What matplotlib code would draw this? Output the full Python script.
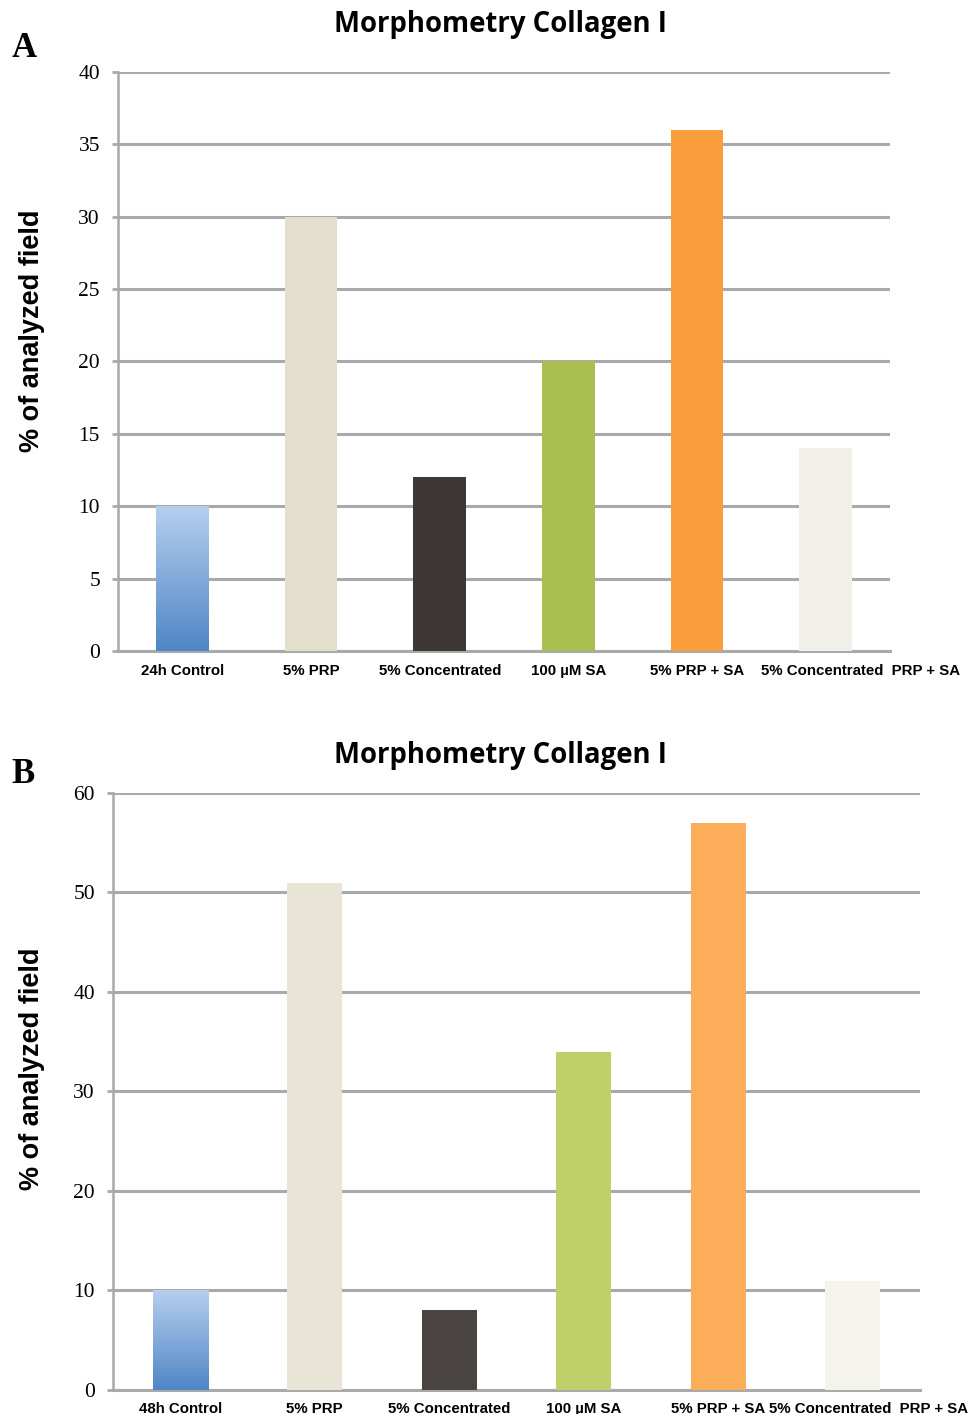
import numpy as np
import matplotlib
matplotlib.use("Agg")
import matplotlib.pyplot as plt
import matplotlib.transforms as mtransforms
from matplotlib.colors import LinearSegmentedColormap

# data
groups_a = ["24h Control", "5% PRP", "5% Concentrated", "100 \u00b5M SA", "5% PRP + SA", "5% Concentrated  PRP + SA"]
values_a = [10, 30, 12, 20, 36, 14]
groups_b = ["48h Control", "5% PRP", "5% Concentrated", "100 \u00b5M SA", "5% PRP + SA", "5% Concentrated  PRP + SA"]
values_b = [10, 51, 8, 34, 57, 11]
yticks_a = [0, 5, 10, 15, 20, 25, 30, 35, 40]
yticks_b = [0, 10, 20, 30, 40, 50, 60]

colors_a = ["#6f9bd4", "#e4dfcc", "#3d3836", "#a9c050", "#f99d3d", "#f1f0e8"]
colors_b = ["#6f9bd4", "#e8e4d6", "#4a4543", "#bfcf6a", "#fcad5a", "#f4f3ec"]

GRID = "#a9a9a9"
blue_grad = LinearSegmentedColormap.from_list("bg", ["#4f86c6", "#b6cfee"])


def draw_panel(ax, groups, values, colors, yticks, ymax, bar_w, label_shift, ylab_xy):
    x = np.arange(len(groups))
    bars = ax.bar(x, values, width=bar_w, color=colors, zorder=3)

    # gradient fill on the control bar
    b0 = bars[0]
    b0.set_facecolor("none")
    grad = np.linspace(0, 1, 256).reshape(-1, 1)
    im = ax.imshow(grad, cmap=blue_grad, origin="lower", aspect="auto",
                   extent=[b0.get_x(), b0.get_x() + b0.get_width(), 0, b0.get_height()],
                   zorder=2.9)
    im.set_clip_path(b0)

    ax.set_xlim(-0.5, len(groups) - 0.5)
    ax.set_ylim(0, ymax)
    ax.set_yticks(yticks)
    ax.yaxis.grid(True, color=GRID, linewidth=2.2, zorder=1)
    ax.set_axisbelow(True)
    for s in ["top", "right"]:
        ax.spines[s].set_visible(False)
    ax.spines["left"].set_color(GRID)
    ax.spines["left"].set_linewidth(1.8)
    ax.spines["bottom"].set_color(GRID)
    ax.spines["bottom"].set_linewidth(2.2)
    ax.tick_params(axis="y", length=4, width=2, color=GRID, pad=9)
    ax.tick_params(axis="x", length=0, pad=9)
    for lab in ax.get_yticklabels():
        lab.set_fontfamily("Liberation Serif")
        lab.set_fontsize(15.5)

    ax.set_xticks(x)
    ax.set_xticklabels(groups, fontfamily="Liberation Sans", fontweight="bold", fontsize=10.8)
    # the last label sits to the right of its bar in the original
    last = ax.get_xticklabels()[-1]
    last.set_transform(last.get_transform() + mtransforms.ScaledTranslation(label_shift / 100, 0, ax.figure.dpi_scale_trans))

    ax.set_ylabel("% of analyzed field", fontfamily="Liberation Sans", fontweight="bold",
                  fontsize=19.5)
    ax.yaxis.set_label_coords(*ylab_xy)


fig = plt.figure(figsize=(9.77, 14.14), dpi=100)

ax_a = fig.add_axes([0.1208, 0.5396, 0.7902, 0.4095])
draw_panel(ax_a, groups_a, values_a, colors_a, yticks_a, 40, 0.41, 35, (-0.0946, 0.553))
ax_b = fig.add_axes([0.1157, 0.0170, 0.8260, 0.4222])
draw_panel(ax_b, groups_b, values_b, colors_b, yticks_b, 60, 0.41, 16, (-0.0843, 0.538))

fig.text(0.512, 0.983, "Morphometry Collagen I", ha="center", va="center",
         fontfamily="Open Sans", fontweight="bold", fontsize=19.8)
fig.text(0.512, 0.466, "Morphometry Collagen I", ha="center", va="center",
         fontfamily="Open Sans", fontweight="bold", fontsize=19.8)
fig.text(0.012, 0.966, "A", ha="left", va="center", fontfamily="Liberation Serif",
         fontweight="bold", fontsize=25)
fig.text(0.012, 0.452, "B", ha="left", va="center", fontfamily="Liberation Serif",
         fontweight="bold", fontsize=25)

fig.savefig("out.png", dpi=100)
